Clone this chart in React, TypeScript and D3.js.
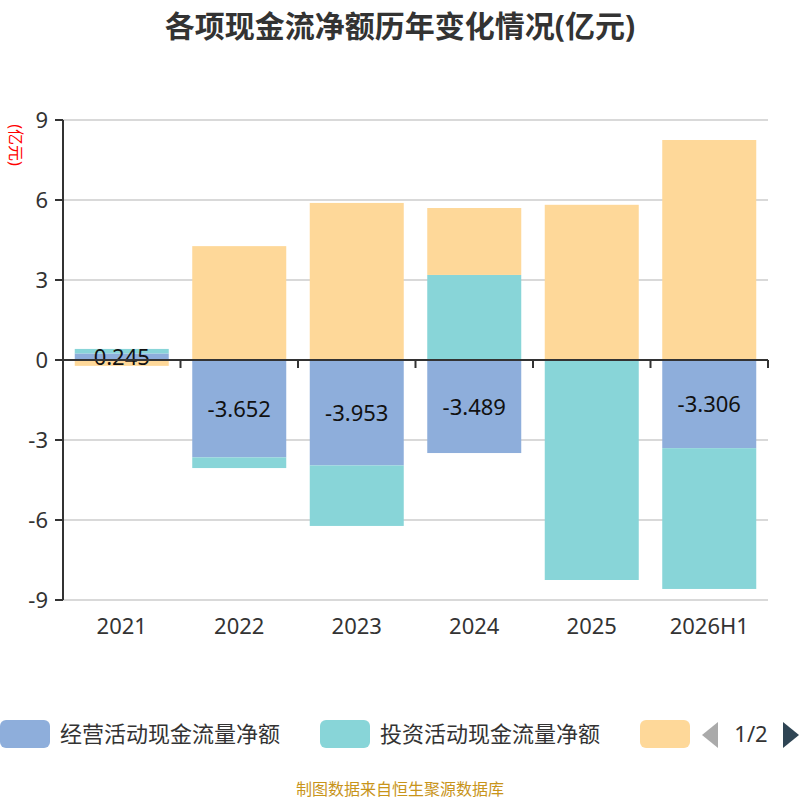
import { useRef, useEffect } from 'react';
import * as d3 from 'd3';

const years = ['2021', '2022', '2023', '2024', '2025', '2026H1'];
const operating = [0.245, -3.652, -3.953, -3.489, 0.01, -3.306];
const investing = [0.17, -0.4, -2.27, 3.19, -8.25, -5.28];
const financing = [-0.22, 4.27, 5.89, 2.51, 5.81, 8.25];
const yTicks = [-9, -6, -3, 0, 3, 6, 9];
const seriesNames = ['经营活动现金流量净额', '投资活动现金流量净额'];
const colors = ['#8eaedb', '#88d5d8', '#fed899'];

export default function App() {
  const svgRef = useRef<SVGSVGElement>(null);

  useEffect(() => {
    if (!svgRef.current) return;
    const svg = d3.select(svgRef.current);
    svg.selectAll('*').remove();
    const font = '"Noto Sans", "Noto Sans CJK SC", sans-serif';

    const x = d3.scaleBand().domain(years).range([63, 768]).paddingInner(0.2).paddingOuter(0.1);
    const band = d3.scaleBand().domain(years).range([63, 768]);
    const y = d3.scaleLinear().domain([-9, 9]).range([600, 120]);

    svg.append('text').attr('x', 400).attr('y', 37).attr('text-anchor', 'middle')
      .attr('font-size', 30).attr('font-weight', 'bold').attr('fill', '#333')
      .attr('font-family', font).text('各项现金流净额历年变化情况(亿元)');

    // grid
    yTicks.forEach(t => {
      svg.append('line').attr('x1', 63).attr('x2', 768).attr('y1', y(t)).attr('y2', y(t))
        .attr('stroke', '#ccc').attr('stroke-width', 1.5);
      svg.append('line').attr('x1', 55).attr('x2', 63).attr('y1', y(t)).attr('y2', y(t))
        .attr('stroke', '#333').attr('stroke-width', 2);
      svg.append('text').attr('x', 48).attr('y', y(t) + 8).attr('text-anchor', 'end')
        .attr('font-size', 22).attr('fill', '#333').attr('font-family', font).text(t);
    });

    // stacked bars
    const series = [operating, investing, financing];
    years.forEach((yr, i) => {
      let pos = 0, neg = 0;
      series.forEach((s, k) => {
        const v = s[i];
        const base = v >= 0 ? pos : neg;
        const top = base + v;
        if (v >= 0) pos = top; else neg = top;
        svg.append('rect').attr('x', x(yr)!).attr('width', x.bandwidth())
          .attr('y', y(Math.max(base, top))).attr('height', Math.abs(y(base) - y(top)))
          .attr('fill', colors[k]);
      });
    });

    // labels for operating
    years.forEach((yr, i) => {
      const v = operating[i];
      if (Math.abs(v) < 0.1) return;
      const cy = v < 0 ? y(v / 2) : y(v / 2);
      svg.append('text').attr('x', x(yr)! + x.bandwidth() / 2).attr('y', cy + 8)
        .attr('text-anchor', 'middle').attr('font-size', 22).attr('fill', '#111')
        .attr('font-family', font).text(v.toFixed(3));
    });

    // axes
    svg.append('line').attr('x1', 63).attr('x2', 63).attr('y1', 120).attr('y2', 600)
      .attr('stroke', '#333').attr('stroke-width', 2);
    svg.append('line').attr('x1', 63).attr('x2', 768).attr('y1', y(0)).attr('y2', y(0))
      .attr('stroke', '#333').attr('stroke-width', 2);
    years.forEach(yr => {
      const bx = band(yr)! + band.bandwidth();
      svg.append('line').attr('x1', bx).attr('x2', bx).attr('y1', y(0)).attr('y2', y(0) + 8)
        .attr('stroke', '#333').attr('stroke-width', 2);
      svg.append('text').attr('x', band(yr)! + band.bandwidth() / 2).attr('y', 634)
        .attr('text-anchor', 'middle').attr('font-size', 22).attr('fill', '#333')
        .attr('font-family', font).text(yr);
    });

    svg.append('text').attr('transform', 'translate(10,145) rotate(90)')
      .attr('text-anchor', 'middle').attr('font-size', 16).attr('fill', 'red')
      .attr('font-family', font).text('(亿元)');

    // legend
    const lx = [0, 320, 640];
    lx.forEach((px, k) => {
      svg.append('rect').attr('x', px).attr('y', 720).attr('width', 50).attr('height', 28)
        .attr('rx', 6).attr('fill', colors[k]);
      if (seriesNames[k]) {
        svg.append('text').attr('x', px + 60).attr('y', 742).attr('font-size', 22)
          .attr('fill', '#333').attr('font-family', font).text(seriesNames[k]);
      }
    });
    svg.append('path').attr('d', 'M718,722 L702,735 L718,748 Z').attr('fill', '#aaa');
    svg.append('text').attr('x', 751).attr('y', 742).attr('text-anchor', 'middle')
      .attr('font-size', 22).attr('fill', '#333').attr('font-family', font).text('1/2');
    svg.append('path').attr('d', 'M783,722 L799,735 L783,748 Z').attr('fill', '#2f4554');

    svg.append('text').attr('x', 400).attr('y', 795).attr('text-anchor', 'middle')
      .attr('font-size', 16).attr('fill', '#c8941a').attr('font-family', font)
      .text('制图数据来自恒生聚源数据库');
  }, []);

  return (
    <svg ref={svgRef} width={800} height={800}
      style={{ position: 'absolute', left: 0, top: 0, background: '#fff' }} />
  );
}
